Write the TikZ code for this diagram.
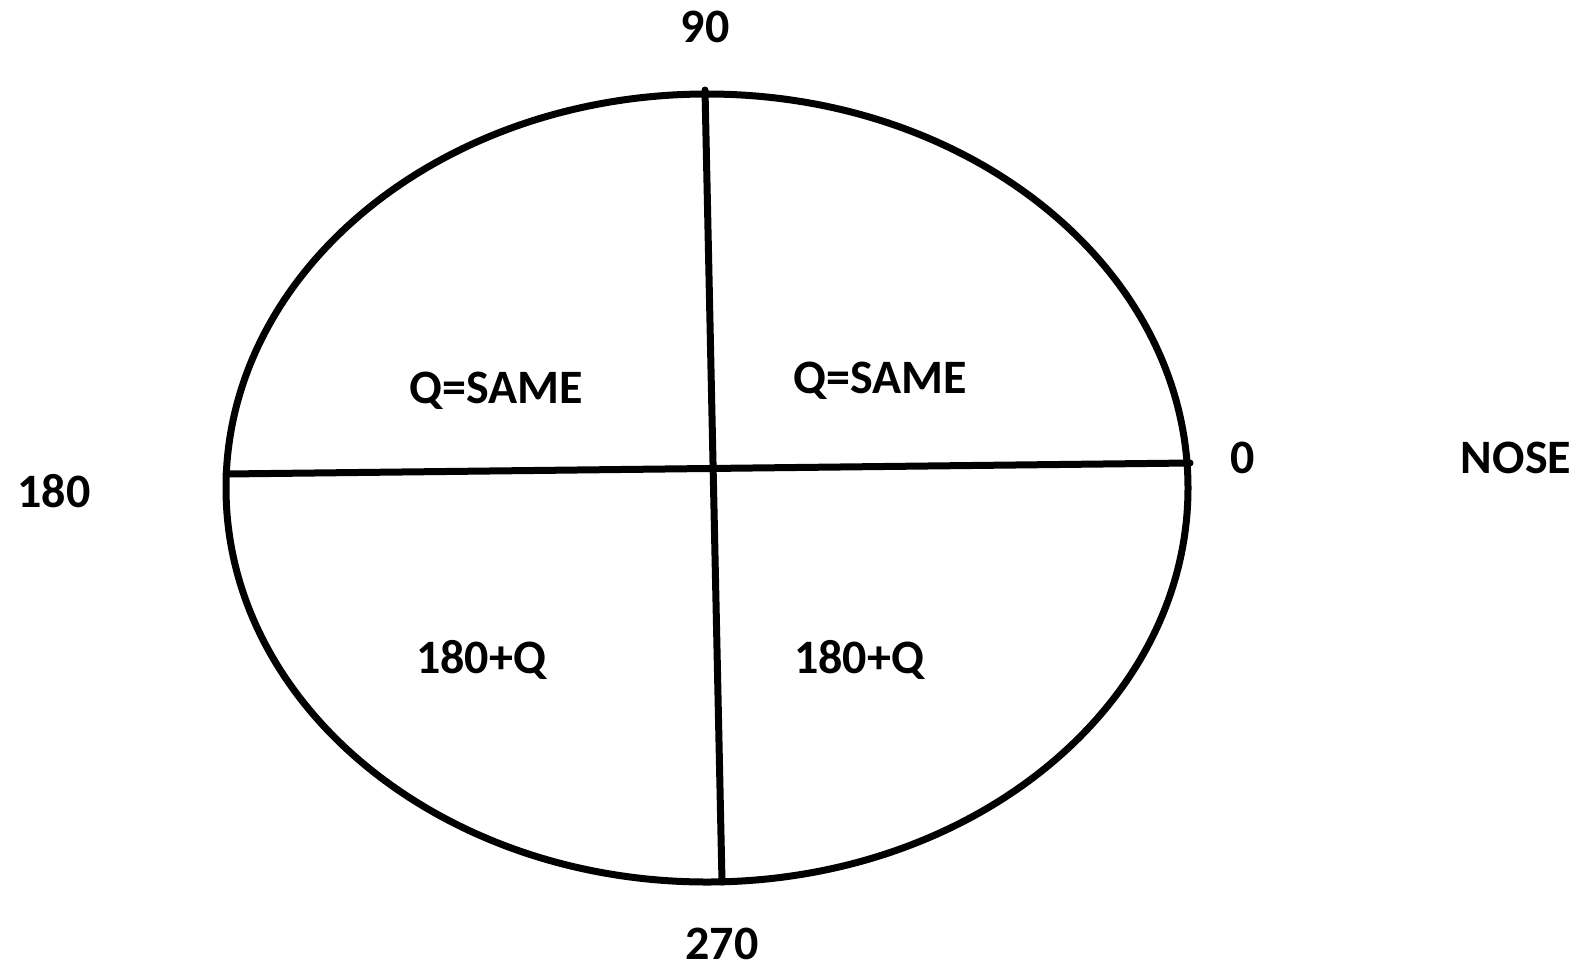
\documentclass[tikz,border=0pt]{standalone}
\usepackage{fontspec}
\setmainfont{Carlito}
\usetikzlibrary{shapes.geometric}
\begin{document}
\begin{tikzpicture}[x=1pt,y=-1pt,
  lbl/.style={font=\fontsize{48}{56}\selectfont\bfseries, inner sep=0pt, anchor=base},
  stroke/.style={line width=7pt, line cap=round}]
\useasboundingbox (0,0) rectangle (1584,967);
\node[draw, stroke, ellipse, minimum width=962pt, minimum height=788pt, inner sep=0pt] (oval) at (707,488) {};
\coordinate (top) at (705,90);
\coordinate (bot) at (722,882);
\coordinate (lft) at (226,474);
\coordinate (rgt) at (1190,463);
\draw[stroke] (top) -- (bot);
\draw[stroke] (lft) -- (rgt);
\node[lbl] (l90) at (705,42.5) {90};
\node[lbl] (l180) at (54,507) {180};
\node[lbl] (l0) at (1243,473) {0};
\node[lbl] (nose) at (1516,473) {NOSE};
\node[lbl] (l270) at (722,959) {270};
\node[lbl] (q1) at (496,403) {Q=SAME};
\node[lbl] (q2) at (880,393) {Q=SAME};
\node[lbl] (q3) at (481,673) {180+Q};
\node[lbl] (q4) at (859,673) {180+Q};
\end{tikzpicture}
\end{document}
